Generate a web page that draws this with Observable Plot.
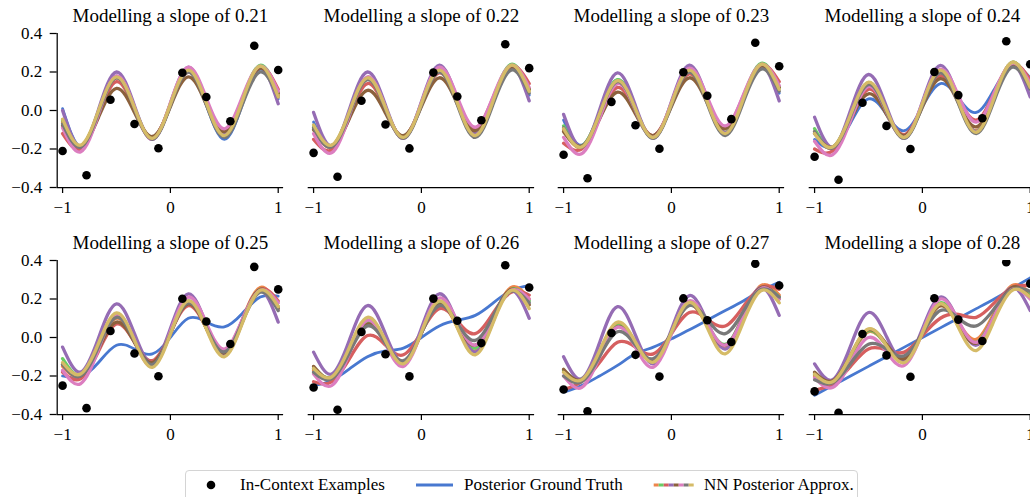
<!DOCTYPE html>
<html><head><meta charset="utf-8">
<script src="https://cdn.jsdelivr.net/npm/d3@7"></script>
<script src="https://cdn.jsdelivr.net/npm/@observablehq/plot@0.6"></script>
<style>
html,body{margin:0;padding:0;background:#fff;overflow:hidden;}
#wrap{position:relative;width:1030px;height:497px;overflow:hidden;font-family:"Liberation Serif","Times New Roman",serif;color:#000;}
.panel{position:absolute;}
#legend{position:absolute;left:185px;top:470px;width:673px;height:40px;border:1px solid #d4d4d4;border-radius:4px;background:#fff;box-sizing:border-box;}
#legend span{position:absolute;top:0;line-height:27px;font-size:17px;white-space:nowrap;}
#legend svg{position:absolute;left:0;top:0;}
</style></head><body><div id="wrap"></div>
<script>
// ---- data ----
const slopes = [0.21, 0.22, 0.23, 0.24, 0.25, 0.26, 0.27, 0.28];
const gridX = [-1, -0.8333, -0.6667, -0.5, -0.3333, -0.1667, 0, 0.1667, 0.3333, 0.5, 0.6667, 0.8333, 1];
const pointX = [-1, -0.778, -0.556, -0.333, -0.111, 0.111, 0.333, 0.556, 0.778, 1];
const pointY = [
 [-0.21, -0.336, 0.056, -0.07, -0.196, 0.196, 0.07, -0.056, 0.336, 0.21],
 [-0.22, -0.344, 0.051, -0.073, -0.197, 0.197, 0.073, -0.051, 0.344, 0.22],
 [-0.23, -0.352, 0.045, -0.077, -0.199, 0.199, 0.077, -0.045, 0.352, 0.23],
 [-0.24, -0.360, 0.040, -0.08, -0.200, 0.200, 0.08, -0.040, 0.360, 0.24],
 [-0.25, -0.367, 0.034, -0.083, -0.201, 0.201, 0.083, -0.034, 0.367, 0.25],
 [-0.26, -0.375, 0.029, -0.087, -0.202, 0.202, 0.087, -0.029, 0.375, 0.26],
 [-0.27, -0.383, 0.023, -0.09, -0.203, 0.203, 0.09, -0.023, 0.383, 0.27],
 [-0.28, -0.391, 0.018, -0.093, -0.204, 0.204, 0.093, -0.018, 0.391, 0.28]
];
const truth = [
 [0.01, -0.185, 0.0, 0.18, 0.015, -0.15, 0.03, 0.205, 0.03, -0.15, 0.03, 0.215, 0.06],
 [-0.06, -0.18, -0.005, 0.17, 0.015, -0.14, 0.035, 0.21, 0.04, -0.135, 0.045, 0.225, 0.08],
 [-0.05, -0.18, -0.01, 0.16, 0.01, -0.14, 0.035, 0.21, 0.045, -0.125, 0.055, 0.235, 0.09],
 [-0.15, -0.19, -0.065, 0.06, -0.02, -0.105, 0.02, 0.14, 0.065, -0.01, 0.11, 0.23, 0.17],
 [-0.2, -0.205, -0.13, -0.04, -0.06, -0.085, 0.0, 0.1, 0.08, 0.055, 0.125, 0.21, 0.215],
 [-0.25, -0.223, -0.163, -0.1, -0.07, -0.055, 0.0, 0.06, 0.09, 0.115, 0.18, 0.245, 0.27],
 [-0.284, -0.25, -0.2, -0.145, -0.085, -0.05, -0.007, 0.04, 0.09, 0.14, 0.19, 0.244, 0.287],
 [-0.3, -0.25, -0.2, -0.15, -0.1, -0.05, 0.0, 0.05, 0.1, 0.15, 0.2, 0.255, 0.31]
];
const nnOrange = [
 [-0.06, -0.19, -0.01, 0.17, 0.01, -0.145, 0.03, 0.21, 0.04, -0.125, 0.05, 0.23, 0.08],
 [-0.09, -0.19, -0.01, 0.165, 0.012, -0.14, 0.035, 0.21, 0.045, -0.12, 0.058, 0.235, 0.11],
 [-0.1, -0.19, -0.018, 0.155, 0.008, -0.14, 0.035, 0.21, 0.048, -0.115, 0.063, 0.24, 0.12],
 [-0.11, -0.195, -0.028, 0.14, 0.0, -0.14, 0.033, 0.205, 0.05, -0.105, 0.073, 0.25, 0.13],
 [-0.15, -0.2, -0.05, 0.1, -0.02, -0.14, 0.02, 0.18, 0.05, -0.08, 0.09, 0.26, 0.16],
 [-0.17, -0.21, -0.065, 0.08, -0.025, -0.13, 0.023, 0.175, 0.053, -0.07, 0.095, 0.26, 0.2],
 [-0.18, -0.22, -0.075, 0.07, -0.025, -0.12, 0.025, 0.17, 0.06, -0.05, 0.11, 0.27, 0.22],
 [-0.2, -0.23, -0.1, 0.03, -0.04, -0.11, 0.028, 0.165, 0.078, -0.01, 0.13, 0.27, 0.23]
];
const nnGreen = [
 [-0.05, -0.185, -0.005, 0.175, 0.015, -0.145, 0.035, 0.215, 0.045, -0.125, 0.055, 0.235, 0.09],
 [-0.08, -0.185, -0.008, 0.17, 0.015, -0.14, 0.038, 0.215, 0.048, -0.12, 0.06, 0.24, 0.11],
 [-0.08, -0.185, -0.013, 0.16, 0.01, -0.14, 0.038, 0.215, 0.05, -0.115, 0.065, 0.245, 0.12],
 [-0.095, -0.19, -0.022, 0.145, 0.003, -0.14, 0.035, 0.21, 0.05, -0.11, 0.07, 0.25, 0.13],
 [-0.11, -0.195, -0.04, 0.114, -0.013, -0.14, 0.025, 0.19, 0.053, -0.085, 0.083, 0.25, 0.16],
 [-0.16, -0.205, -0.063, 0.08, -0.025, -0.13, 0.028, 0.185, 0.065, -0.055, 0.098, 0.25, 0.19],
 [-0.17, -0.215, -0.078, 0.06, -0.03, -0.12, 0.028, 0.175, 0.07, -0.035, 0.11, 0.255, 0.21],
 [-0.19, -0.225, -0.095, 0.035, -0.04, -0.115, 0.033, 0.18, 0.078, -0.025, 0.118, 0.26, 0.22]
];
const nnRed = [
 [-0.12, -0.2, -0.025, 0.15, 0.005, -0.14, 0.03, 0.2, 0.05, -0.1, 0.06, 0.225, 0.11],
 [-0.15, -0.205, -0.033, 0.14, 0.003, -0.135, 0.03, 0.195, 0.053, -0.09, 0.07, 0.23, 0.14],
 [-0.17, -0.2, -0.04, 0.12, -0.005, -0.13, 0.03, 0.19, 0.053, -0.085, 0.075, 0.235, 0.15],
 [-0.2, -0.21, -0.05, 0.11, -0.008, -0.125, 0.028, 0.18, 0.065, -0.05, 0.095, 0.24, 0.16],
 [-0.18, -0.215, -0.072, 0.07, -0.025, -0.12, 0.023, 0.166, 0.048, -0.07, 0.09, 0.25, 0.19],
 [-0.23, -0.23, -0.11, 0.01, -0.04, -0.09, 0.03, 0.15, 0.085, 0.02, 0.128, 0.235, 0.22],
 [-0.27, -0.23, -0.13, -0.025, -0.05, -0.085, 0.02, 0.13, 0.095, 0.06, 0.16, 0.26, 0.25],
 [-0.275, -0.24, -0.15, -0.06, -0.065, -0.076, 0.01, 0.1, 0.12, 0.105, 0.18, 0.26, 0.27]
];
const nnPurple = [
 [0.0, -0.19, 0.005, 0.2, 0.025, -0.15, 0.035, 0.225, 0.05, -0.12, 0.05, 0.225, 0.035],
 [-0.01, -0.185, 0.008, 0.2, 0.028, -0.145, 0.045, 0.235, 0.058, -0.12, 0.055, 0.23, 0.05],
 [-0.02, -0.19, 0.003, 0.195, 0.025, -0.145, 0.045, 0.235, 0.06, -0.115, 0.06, 0.235, 0.05],
 [-0.035, -0.19, 0.0, 0.187, 0.02, -0.145, 0.045, 0.234, 0.062, -0.11, 0.065, 0.24, 0.07],
 [-0.05, -0.18, -0.003, 0.175, 0.02, -0.135, 0.046, 0.227, 0.068, -0.09, 0.078, 0.245, 0.08],
 [-0.076, -0.19, -0.012, 0.166, 0.018, -0.13, 0.048, 0.227, 0.075, -0.076, 0.085, 0.245, 0.1],
 [-0.1, -0.215, -0.028, 0.16, 0.012, -0.137, 0.04, 0.218, 0.08, -0.06, 0.1, 0.26, 0.115],
 [-0.137, -0.22, -0.045, 0.13, 0.005, -0.12, 0.045, 0.21, 0.085, -0.04, 0.11, 0.26, 0.14]
];
const nnBrown = [
 [-0.08, -0.185, -0.035, 0.115, -0.01, -0.135, 0.02, 0.175, 0.03, -0.11, 0.055, 0.22, 0.09],
 [-0.1, -0.185, -0.04, 0.105, -0.013, -0.13, 0.02, 0.17, 0.033, -0.105, 0.06, 0.225, 0.11],
 [-0.11, -0.185, -0.045, 0.095, -0.018, -0.13, 0.02, 0.17, 0.038, -0.095, 0.068, 0.23, 0.12],
 [-0.12, -0.19, -0.05, 0.087, -0.02, -0.13, 0.018, 0.165, 0.04, -0.085, 0.078, 0.24, 0.13],
 [-0.14, -0.2, -0.06, 0.08, -0.025, -0.13, 0.023, 0.175, 0.048, -0.08, 0.085, 0.25, 0.15],
 [-0.15, -0.21, -0.07, 0.07, -0.028, -0.125, 0.023, 0.17, 0.065, -0.04, 0.105, 0.25, 0.17],
 [-0.165, -0.22, -0.083, 0.055, -0.033, -0.12, 0.025, 0.17, 0.065, -0.04, 0.11, 0.26, 0.2],
 [-0.18, -0.225, -0.093, 0.04, -0.035, -0.11, 0.028, 0.165, 0.068, -0.03, 0.115, 0.26, 0.21]
];
const nnPink = [
 [-0.09, -0.215, -0.02, 0.18, 0.015, -0.15, 0.04, 0.225, 0.065, -0.095, 0.07, 0.23, 0.1],
 [-0.12, -0.22, -0.023, 0.175, 0.015, -0.145, 0.04, 0.225, 0.07, -0.087, 0.074, 0.235, 0.12],
 [-0.14, -0.225, -0.043, 0.14, 0.0, -0.14, 0.04, 0.22, 0.07, -0.08, 0.08, 0.24, 0.13],
 [-0.16, -0.23, -0.052, 0.125, -0.008, -0.14, 0.038, 0.215, 0.078, -0.06, 0.093, 0.245, 0.14],
 [-0.17, -0.24, -0.06, 0.12, -0.015, -0.15, 0.03, 0.21, 0.075, -0.06, 0.093, 0.245, 0.18],
 [-0.19, -0.25, -0.08, 0.09, -0.03, -0.15, 0.028, 0.205, 0.083, -0.04, 0.103, 0.245, 0.2],
 [-0.2, -0.26, -0.1, 0.054, -0.05, -0.154, 0.018, 0.19, 0.075, -0.04, 0.108, 0.255, 0.2],
 [-0.21, -0.26, -0.13, 0.0, -0.075, -0.145, 0.028, 0.2, 0.088, -0.025, 0.113, 0.25, 0.2]
];
const nnGray = [
 [-0.07, -0.19, -0.01, 0.17, 0.01, -0.15, 0.025, 0.2, 0.03, -0.14, 0.03, 0.2, 0.07],
 [-0.09, -0.19, -0.015, 0.16, 0.008, -0.145, 0.028, 0.2, 0.03, -0.14, 0.035, 0.21, 0.09],
 [-0.09, -0.19, -0.02, 0.15, 0.003, -0.145, 0.028, 0.2, 0.035, -0.13, 0.043, 0.215, 0.1],
 [-0.11, -0.195, -0.03, 0.135, -0.005, -0.145, 0.025, 0.195, 0.038, -0.12, 0.053, 0.225, 0.11],
 [-0.14, -0.2, -0.048, 0.105, -0.018, -0.14, 0.02, 0.18, 0.053, -0.075, 0.08, 0.235, 0.14],
 [-0.18, -0.215, -0.078, 0.06, -0.03, -0.12, 0.023, 0.166, 0.075, -0.015, 0.113, 0.24, 0.18],
 [-0.2, -0.23, -0.1, 0.03, -0.04, -0.11, 0.028, 0.166, 0.093, 0.02, 0.135, 0.25, 0.21],
 [-0.22, -0.235, -0.135, -0.035, -0.06, -0.095, 0.02, 0.14, 0.1, 0.06, 0.15, 0.25, 0.24]
];
const nnOlive = [
 [-0.045, -0.18, 0.0, 0.175, 0.015, -0.145, 0.033, 0.21, 0.04, -0.13, 0.05, 0.23, 0.07],
 [-0.075, -0.18, -0.005, 0.17, 0.015, -0.14, 0.035, 0.21, 0.04, -0.13, 0.053, 0.235, 0.1],
 [-0.095, -0.19, -0.018, 0.155, 0.008, -0.14, 0.035, 0.21, 0.045, -0.12, 0.06, 0.24, 0.11],
 [-0.12, -0.19, -0.022, 0.147, 0.003, -0.14, 0.035, 0.21, 0.048, -0.113, 0.068, 0.25, 0.12],
 [-0.13, -0.19, -0.031, 0.128, -0.014, -0.155, 0.018, 0.19, 0.045, -0.1, 0.073, 0.245, 0.16],
 [-0.16, -0.205, -0.05, 0.105, -0.016, -0.137, 0.027, 0.19, 0.05, -0.09, 0.078, 0.245, 0.15],
 [-0.18, -0.22, -0.07, 0.08, -0.024, -0.128, 0.027, 0.183, 0.05, -0.085, 0.08, 0.244, 0.18],
 [-0.19, -0.23, -0.093, 0.045, -0.043, -0.13, 0.023, 0.175, 0.053, -0.068, 0.09, 0.245, 0.21]
];
const xTicks = [-1, 0, 1];
const yTicks = [-0.4, -0.2, 0, 0.2, 0.4];
const legendLabels = ["In-Context Examples", "Posterior Ground Truth", "NN Posterior Approx."];

// ---- styling ----
const truthColor = "#4878d0";
const nnSeries = [
  ["#ee854a", nnOrange], ["#6acc64", nnGreen], ["#d65f5f", nnRed], ["#956cb4", nnPurple],
  ["#8c613c", nnBrown], ["#dc7ec0", nnPink], ["#797979", nnGray], ["#d5bb67", nnOlive]
];
const FONT = '"Liberation Serif", "Times New Roman", serif';
const wrap = document.getElementById("wrap");
const fmtX = d3.format("d");
const fmtY = d3.format(".1f");

const lineMark = (vals, color, w) =>
  Plot.line(gridX.map((x, k) => ({x, y: vals[k]})), {
    x: "x", y: "y", stroke: color, strokeWidth: w, curve: "natural", clip: true,
    strokeLinecap: "round", strokeLinejoin: "round"
  });

for (let i = 0; i < 8; i++) {
  const r = Math.floor(i / 4), c = i % 4;
  const marks = [];
  marks.push(lineMark(truth[i], truthColor, 2.8));
  for (const [color, arr] of nnSeries) marks.push(lineMark(arr[i], color, 3.3));
  marks.push(Plot.dot(pointX.map((x, k) => ({x, y: pointY[i][k]})),
    {x: "x", y: "y", r: 4.3, fill: "black", stroke: "none", clip: true}));
  marks.push(Plot.ruleY([-0.4], {stroke: "black", strokeWidth: 1.25}));
  if (c === 0) {
    marks.push(Plot.ruleX([-1.05], {stroke: "black", strokeWidth: 1.25}));
    marks.push(Plot.axisY({ticks: yTicks, tickFormat: fmtY, tickSize: 7, tickPadding: 8,
      fontSize: 17, strokeWidth: 1.25, label: null}));
  }
  marks.push(Plot.axisX({ticks: xTicks, tickFormat: fmtX, tickSize: 6, tickPadding: 7,
    fontSize: 17, strokeWidth: 1.25, label: null}));
  marks.push(Plot.text([`Modelling a slope of ${slopes[i].toFixed(2)}`],
    {text: d => d, frameAnchor: "top", dy: -25, fontSize: 19, fill: "black"}));

  const svg = Plot.plot({
    width: 300, height: 215,
    marginLeft: 56.7, marginRight: 16.9, marginTop: 33, marginBottom: 28,
    x: {domain: [-1.05, 1.05]},
    y: {domain: [-0.4, 0.4], axis: c === 0 ? undefined : null},
    style: {background: "transparent", overflow: "visible", maxWidth: "none",
      fontFamily: FONT, color: "black", fontSize: "17px"},
    marks
  });
  const holder = document.createElement("div");
  holder.className = "panel";
  holder.style.left = (c * 250.7) + "px";
  holder.style.top = (r * 227) + "px";
  holder.appendChild(svg);
  wrap.appendChild(holder);
}

// ---- legend ----
const legend = document.createElement("div");
legend.id = "legend";
wrap.appendChild(legend);
const ls = d3.select(legend).append("svg").attr("width", 673).attr("height", 40);
ls.append("circle").attr("cx", 25).attr("cy", 14).attr("r", 4.3).attr("fill", "black");
ls.append("line").attr("x1", 230).attr("x2", 267).attr("y1", 14).attr("y2", 14)
  .attr("stroke", truthColor).attr("stroke-width", 3);
nnSeries.forEach(([color], k) => {
  ls.append("rect").attr("x", 467.7 + k * 5).attr("y", 12.5).attr("width", 5).attr("height", 3).attr("fill", color);
});
const textLeft = [54, 278, 518];
legendLabels.forEach((t, k) => {
  const s = document.createElement("span");
  s.textContent = t;
  s.style.left = textLeft[k] + "px";
  legend.appendChild(s);
});
</script></body></html>
